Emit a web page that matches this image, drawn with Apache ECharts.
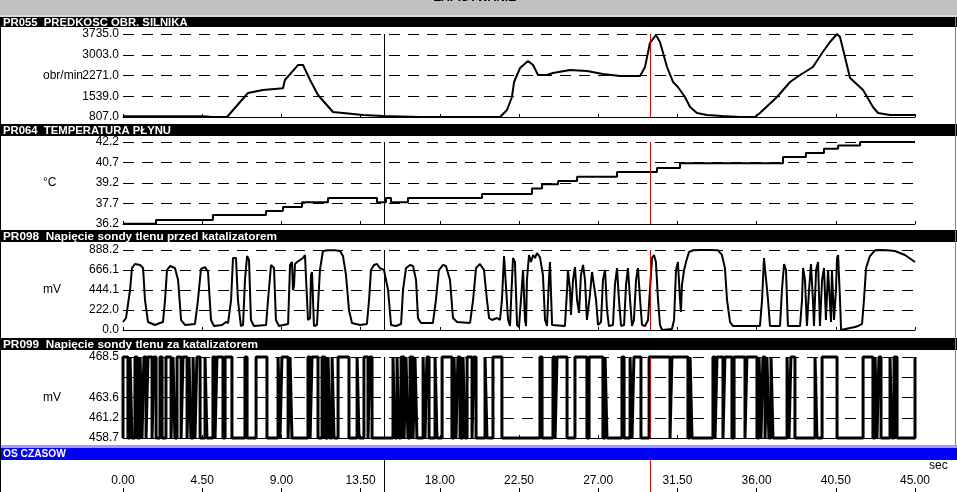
<!DOCTYPE html>
<html><head><meta charset="utf-8">
<script src="https://cdn.jsdelivr.net/npm/echarts@6/dist/echarts.min.js"></script>
<style>html,body{margin:0;padding:0;background:#fff;overflow:hidden}#c{width:957px;height:492px}</style>
</head><body><div id="c"></div>
<script>
// ---- data ----
const timeLabels = ['0.00','4.50','9.00','13.50','18.00','22.50','27.00','31.50','36.00','40.50','45.00'];
const rpmTicks = ['807.0','1539.0','2271.0','3003.0','3735.0'];
const tempTicks = ['36.2','37.7','39.2','40.7','42.2'];
const o2PreTicks = ['0.0','222.0','444.1','666.1','888.2'];
const o2PostTicks = ['458.7','461.2','463.6','','468.5'];

const rpm = [[0,830],[4.49,830],[4.94,815],[5.91,807],[7.10,1654],[7.95,1760],[9.09,1820],[9.20,2112],[9.94,2640],[10.23,2640],[10.63,2112],[11.08,1583],[11.19,1550],[11.93,983],[13.64,878],[14.77,842],[16.88,807],[21.42,807],[21.82,1054],[22.10,1513],[22.22,2042],[22.56,2536],[23.01,2783],[23.30,2640],[23.58,2289],[24.09,2289],[24.43,2360],[25.40,2465],[26.36,2430],[27.27,2324],[28.24,2253],[29.38,2253],[29.66,2571],[29.94,3418],[30.28,3700],[30.51,3453],[30.91,2571],[31.25,2042],[31.53,1865],[31.93,1513],[32.22,1160],[32.61,948],[33.18,878],[34.03,842],[35.06,807],[35.91,807],[36.19,948],[37.16,1513],[37.90,2042],[38.47,2289],[39.20,2571],[39.72,3065],[40.17,3453],[40.57,3735],[40.74,3630],[41.31,2183],[42.05,1760],[42.61,1160],[42.90,948],[43.58,878],[45.00,878]];

const temp = [[0,36.22],[1.875,36.5],[5.11,36.86],[8.125,37.15],[9.09,37.44],[10.17,37.8],[11.65,38.1],[14.43,37.8],[14.94,38.1],[15.23,37.8],[16.19,38.1],[20.40,38.4],[23.24,38.8],[23.81,39.1],[24.72,39.35],[25.80,39.65],[28.07,40.0],[30.34,40.3],[31.65,40.65],[37.5,41.1],[38.8,41.4],[39.83,41.7],[40.63,41.95],[41.88,42.2],[45,42.2]];

const o2Pre = [[0.00,89],[0.17,133],[0.28,155],[0.40,444],[0.51,688],[0.68,733],[0.97,722],[1.14,688],[1.25,333],[1.42,89],[1.82,56],[2.10,78],[2.27,89],[2.39,333],[2.50,666],[2.67,710],[2.95,688],[3.13,555],[3.30,111],[3.52,56],[4.09,67],[4.26,333],[4.43,677],[4.66,699],[4.83,644],[5.00,111],[5.17,44],[5.63,56],[5.85,89],[5.97,78],[6.14,333],[6.25,799],[6.42,799],[6.53,333],[6.70,44],[6.82,56],[6.93,555],[7.05,821],[7.16,777],[7.27,111],[7.44,44],[8.13,56],[8.24,333],[8.41,722],[8.58,688],[8.69,111],[8.86,44],[9.38,67],[9.49,722],[9.60,755],[9.66,444],[9.72,500],[9.77,733],[9.89,755],[10.00,777],[10.23,799],[10.34,833],[10.40,821],[10.51,111],[10.63,133],[10.68,611],[10.74,644],[10.85,44],[11.02,56],[11.19,666],[11.36,877],[11.65,885],[12.05,885],[12.33,877],[12.50,821],[12.67,611],[12.84,222],[13.01,78],[13.47,56],[13.86,67],[13.98,333],[14.09,666],[14.26,722],[14.43,733],[14.60,688],[14.83,666],[14.94,644],[15.06,444],[15.23,56],[15.51,44],[15.80,67],[15.91,444],[16.08,688],[16.31,722],[16.48,710],[16.65,555],[16.76,133],[16.93,78],[17.61,78],[17.78,333],[17.95,666],[18.18,722],[18.35,710],[18.58,555],[18.75,133],[18.98,89],[19.72,78],[19.89,333],[20.06,688],[20.28,733],[20.51,666],[20.68,333],[20.80,133],[20.97,111],[21.25,133],[21.42,111],[21.53,333],[21.65,821],[21.76,799],[21.88,111],[21.99,44],[22.05,333],[22.16,799],[22.27,755],[22.39,56],[22.50,33],[22.61,333],[22.73,666],[22.84,111],[22.90,44],[22.95,555],[23.07,833],[23.18,755],[23.30,833],[23.41,799],[23.52,855],[23.69,810],[23.86,611],[23.98,111],[24.09,44],[24.20,555],[24.26,755],[24.38,56],[25.11,44],[25.23,444],[25.28,666],[25.40,444],[25.45,167],[25.57,555],[25.68,699],[25.80,333],[25.91,189],[26.02,611],[26.14,722],[26.25,555],[26.36,111],[26.53,389],[26.65,644],[26.76,666],[26.88,333],[26.99,56],[27.16,89],[27.27,555],[27.39,666],[27.50,222],[27.61,44],[27.84,56],[27.95,500],[28.07,688],[28.18,333],[28.30,44],[28.47,56],[28.58,500],[28.69,688],[28.81,333],[28.92,44],[29.03,111],[29.15,555],[29.26,688],[29.38,333],[29.49,56],[29.66,44],[29.83,111],[29.94,444],[30.06,799],[30.17,833],[30.28,755],[30.40,333],[30.51,56],[30.63,0],[31.19,11],[31.31,111],[31.42,666],[31.53,755],[31.65,333],[31.70,200],[31.76,500],[31.88,666],[31.99,755],[32.16,866],[32.39,885],[32.78,888],[33.35,888],[33.81,885],[34.03,833],[34.20,688],[34.32,333],[34.49,89],[34.66,44],[36.19,44],[36.31,333],[36.42,799],[36.53,777],[36.65,333],[36.76,44],[37.33,44],[37.44,444],[37.56,733],[37.67,666],[37.78,44],[38.47,44],[38.58,333],[38.64,688],[38.75,555],[38.86,44],[38.98,444],[39.09,733],[39.20,333],[39.26,44],[39.38,666],[39.49,755],[39.60,44],[39.72,555],[39.83,688],[39.94,111],[40.06,666],[40.11,688],[40.23,89],[40.28,666],[40.40,111],[40.51,444],[40.57,799],[40.63,833],[40.74,333],[40.80,0],[41.31,22],[41.59,33],[41.76,44],[41.99,67],[42.10,333],[42.22,688],[42.44,821],[42.73,885],[43.01,888],[43.41,885],[43.86,877],[44.43,833],[45.00,755]];

const o2PostLevels = [458.7, 468.5];
const o2PostSwitch = [0.00,0.28,0.40,0.51,0.68,0.80,0.97,1.08,1.19,1.31,1.42,1.65,1.76,1.88,2.10,2.22,2.44,2.73,2.84,2.95,3.07,3.30,3.41,3.64,3.75,3.86,3.98,4.09,4.20,4.38,4.66,4.77,5.11,5.23,5.34,5.68,5.80,6.19,6.93,7.05,7.56,8.18,8.81,8.92,9.03,9.38,9.49,9.60,10.51,10.63,10.74,11.08,11.31,11.48,11.65,11.76,11.88,11.99,12.22,12.84,13.30,13.41,13.69,13.92,14.03,14.15,15.34,15.45,15.57,15.68,15.80,15.97,16.08,16.19,16.31,16.48,16.59,16.70,17.05,17.16,17.27,17.39,17.73,17.84,18.13,18.69,18.81,18.92,19.03,19.15,19.32,19.43,19.55,19.83,19.94,20.06,20.57,20.68,21.02,21.53,23.69,23.81,24.43,24.55,24.66,25.23,25.68,26.36,26.48,27.27,27.39,27.50,28.35,28.47,28.81,28.92,29.03,29.43,29.89,31.08,31.19,32.10,32.22,32.33,33.52,33.64,33.75,34.09,34.20,34.60,34.72,35.34,35.45,36.02,36.14,36.25,36.36,36.48,36.59,36.70,36.82,36.93,37.73,37.84,37.95,38.18,39.32,39.43,39.72,40.57,42.05,42.61,42.73,42.84,42.95,43.07,43.58,43.69,43.81,43.98,45.00];

const cursorTime = 14.86;
const markerTime = 29.97;

// ---- build ----
const o2Post = [[0, o2PostLevels[0]]];
(function(){ let s = 0; o2PostSwitch.forEach(t => { s = 1 - s; o2Post.push([t, o2PostLevels[s]]); }); })();

const FONT = 'Liberation Sans, Arial, sans-serif';
const panels = [
  {title:'PR055  PRĘDKOSC OBR. SILNIKA', tsize:11.3, unit:'obr/min', min:807, max:3735, interval:732, ticks:rpmTicks, top:34, height:83, hy:17, hh:10, data:rpm, step:false, lw:2},
  {title:'PR064  TEMPERATURA PŁYNU', tsize:11.3, unit:'°C', min:36.2, max:42.2, interval:1.5, ticks:tempTicks, top:142, height:82, hy:124, hh:12, data:temp, step:'end', lw:2},
  {title:'PR098  Napięcie sondy tlenu przed katalizatorem', tsize:11.8, unit:'mV', min:0, max:888.2, interval:222.05, ticks:o2PreTicks, top:250, height:80, hy:230, hh:12, data:o2Pre, step:false, lw:2},
  {title:'PR099  Napięcie sondy tlenu za katalizatorem', tsize:11.8, unit:'mV', min:458.7, max:468.5, interval:2.45, ticks:o2PostTicks, top:357, height:81, hy:338, hh:12, data:o2Post, step:'end', lw:3}
];

const grid = [], xAxis = [], yAxis = [], series = [], graphic = [];
function addCursorSeries(idx, lo, hi) {
  series.push({type:'line', xAxisIndex:idx, yAxisIndex:idx, data:[[cursorTime, lo],[cursorTime, hi]],
    symbol:'none', showSymbol:false, animation:false, silent:true, clip:false, z:5,
    lineStyle:{color:'#000000', width:1}});
  series.push({type:'line', xAxisIndex:idx, yAxisIndex:idx, data:[[markerTime, lo],[markerTime, hi]],
    symbol:'none', showSymbol:false, animation:false, silent:true, clip:false, z:5,
    lineStyle:{color:'#d00000', width:1}});
}

panels.forEach((p, i) => {
  grid.push({left:123, right:42, top:p.top, height:p.height});
  xAxis.push({type:'value', gridIndex:i, min:0, max:45, interval:4.5, position:'bottom',
    axisLine:{show:true, lineStyle:{color:'#000', width:1}},
    axisTick:{show:true, inside:true, length:3, lineStyle:{color:'#000'}},
    axisLabel:{show:false}, splitLine:{show:false}});
  yAxis.push({type:'value', gridIndex:i, min:p.min, max:p.max, interval:p.interval,
    axisLine:{show:false}, axisTick:{show:false},
    axisLabel:{show:true, color:'#000', fontFamily:FONT, fontSize:12, margin:4,
      formatter:(v) => { const k = Math.round((v - p.min) / p.interval); return p.ticks[k] !== undefined ? p.ticks[k] : ''; }},
    splitLine:{show:true, lineStyle:{color:'#000', width:1, type:[11,8]}}});
  series.push({type:'line', xAxisIndex:i, yAxisIndex:i, data:p.data, step:p.step, showSymbol:false, symbol:'none',
    clip:false, lineStyle:{color:'#000', width:p.lw}, animation:false, silent:true, z:3});
  addCursorSeries(i, p.min, p.max);
  graphic.push({type:'rect', shape:{x:0, y:p.hy, width:957, height:p.hh}, style:{fill:'#000'}, z:100});
  graphic.push({type:'text', x:3, y:p.hy + p.hh/2 + 0.5, style:{text:p.title, fill:'#fff', font:'bold ' + p.tsize + 'px ' + FONT, verticalAlign:'middle'}, z:101});
  graphic.push({type:'text', x:43, y:p.top + p.height/2, style:{text:p.unit, fill:'#000', font:'12px ' + FONT, verticalAlign:'middle'}, z:50});
});

// time axis (grid 4)
grid.push({left:123, right:42, top:468, height:24});
xAxis.push({type:'value', gridIndex:4, min:0, max:45, interval:4.5, position:'top',
  axisLine:{show:true, lineStyle:{color:'#000', width:1}},
  axisTick:{show:true, inside:false, length:4, lineStyle:{color:'#000'}},
  axisLabel:{show:true, inside:true, margin:7, color:'#000', fontFamily:FONT, fontSize:12,
    formatter:(v) => timeLabels[Math.round(v / 4.5)]},
  splitLine:{show:false}});
yAxis.push({type:'value', gridIndex:4, min:0, max:1, show:false});
// cursor strip below the time bar (grid 5)
grid.push({left:123, right:42, top:460, height:32});
xAxis.push({type:'value', gridIndex:5, min:0, max:45, show:false});
yAxis.push({type:'value', gridIndex:5, min:0, max:1, show:false});
addCursorSeries(5, 0, 1);

// chrome
graphic.push({type:'rect', shape:{x:0, y:0, width:957, height:15}, style:{fill:'#c0c0c0'}, z:90});
graphic.push({type:'rect', shape:{x:0, y:15, width:957, height:2}, style:{fill:'#d8d8d8'}, z:90});
graphic.push({type:'text', x:475, y:3.5, style:{text:'ZAPISYWANIE', fill:'#000', font:'bold 12px ' + FONT, align:'center', verticalAlign:'bottom'}, z:91});
graphic.push({type:'rect', shape:{x:0, y:445, width:957, height:3}, style:{fill:'#9c9cff'}, z:100});
graphic.push({type:'rect', shape:{x:0, y:448, width:957, height:12}, style:{fill:'#0000f4'}, z:100});
graphic.push({type:'text', x:3, y:454.5, style:{text:'OS CZASOW', fill:'#fff', font:'bold 10.2px ' + FONT, verticalAlign:'middle'}, z:101});
graphic.push({type:'text', x:929, y:466, style:{text:'sec', fill:'#000', font:'12px ' + FONT, verticalAlign:'middle'}, z:101});
graphic.push({type:'rect', shape:{x:0, y:17, width:1, height:475}, style:{fill:'#000'}, z:102});
graphic.push({type:'rect', shape:{x:955, y:17, width:1, height:428}, style:{fill:'#808080'}, z:102});

const chart = echarts.init(document.getElementById('c'), null, {renderer:'canvas'});
chart.setOption({animation:false, backgroundColor:'#fff', grid, xAxis, yAxis, series, graphic});
</script></body></html>
